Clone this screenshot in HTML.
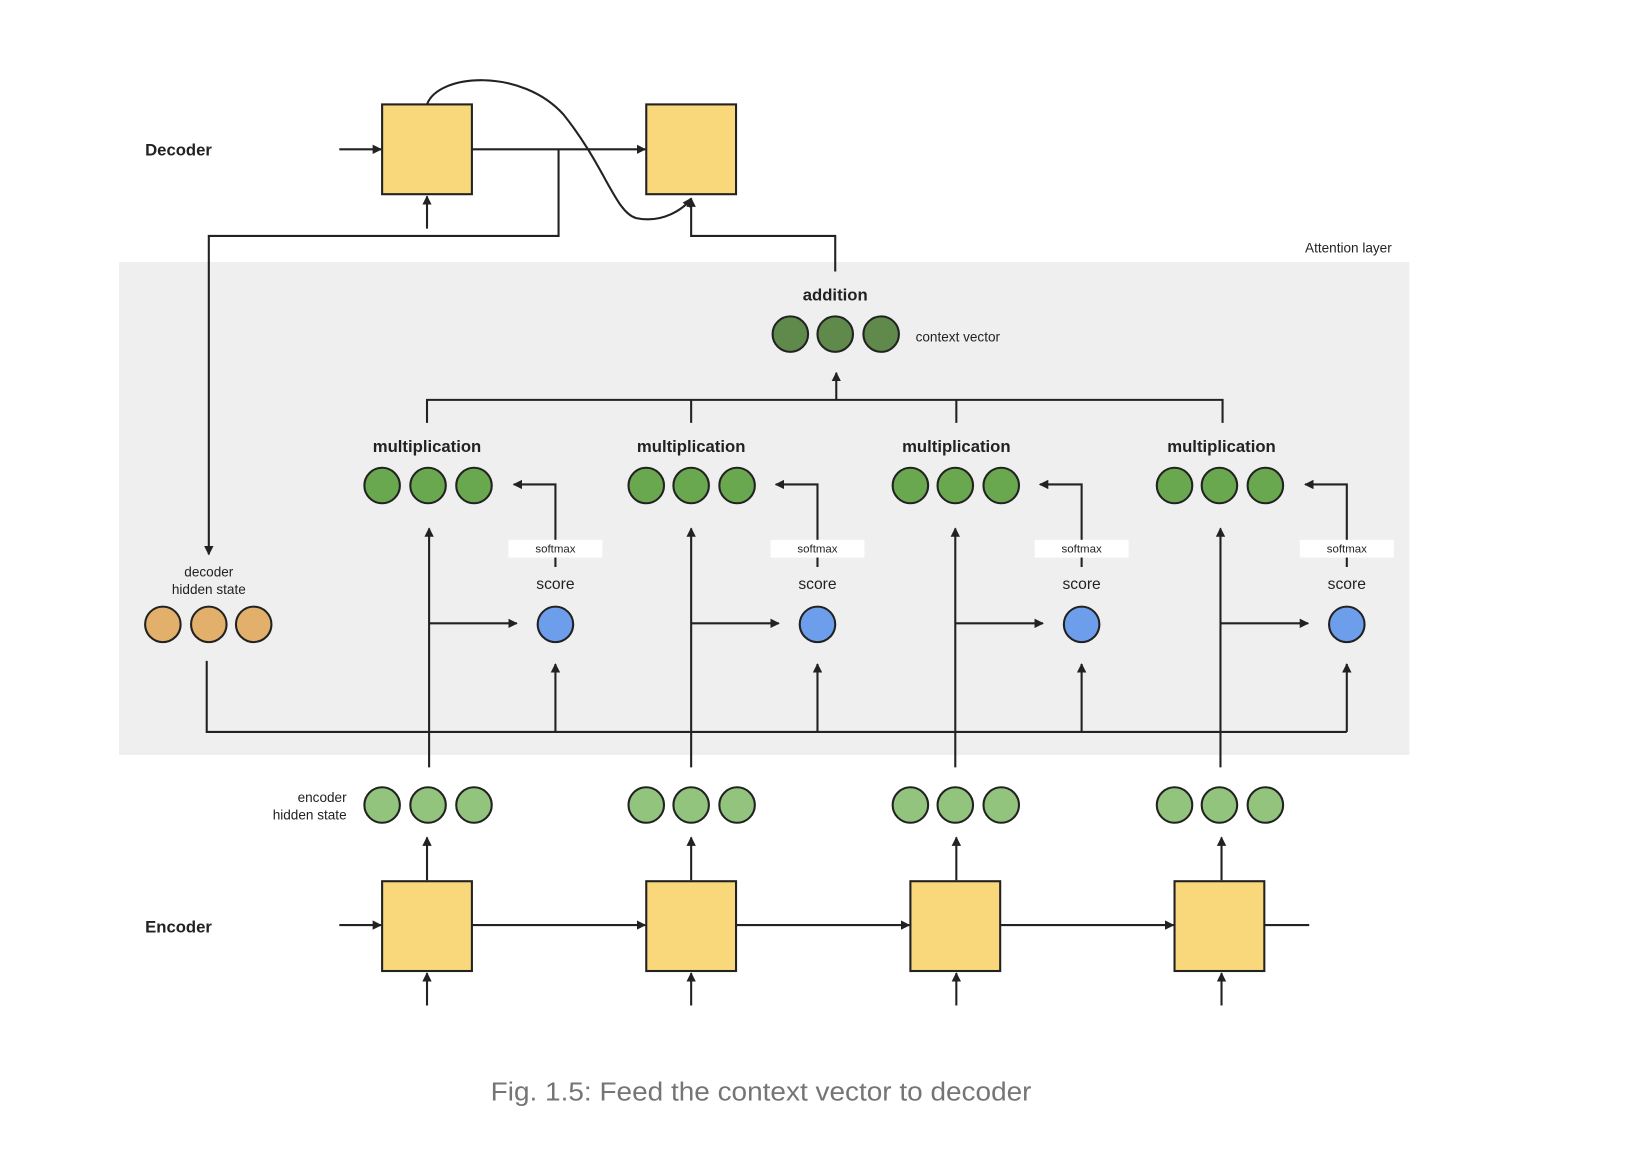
<!DOCTYPE html>
<html><head><meta charset="utf-8"><style>html,body{margin:0;padding:0;background:#fff}svg{display:block}</style></head>
<body>
<svg width="1636" height="1160" viewBox="0 0 1567 1111" preserveAspectRatio="none" xmlns="http://www.w3.org/2000/svg" font-family="Liberation Sans, Arial, sans-serif">
<defs>
<marker id="a" viewBox="0 0 10 10" refX="9" refY="5" markerWidth="9" markerHeight="9" markerUnits="userSpaceOnUse" orient="auto"><path d="M0,0L10,5L0,10z" fill="#222"/></marker>
</defs>
<rect width="1567" height="1111" fill="#fff"/>
<rect x="114" y="251" width="1236" height="472" fill="#efefef"/>
<g stroke="#222" stroke-width="2" fill="none">
<line x1="325" y1="143" x2="365" y2="143" marker-end="url(#a)"/>
<line x1="452" y1="143" x2="618" y2="143" marker-end="url(#a)"/>
<polyline points="535,143 535,226 200,226 200,531" marker-end="url(#a)"/>
<line x1="409" y1="219" x2="409" y2="188" marker-end="url(#a)"/>
<path d="M409,100 C420,70 500,65 540,110 C580,160 590,205 610,209 C635,214 655,200 662,190" marker-end="url(#a)"/>
<polyline points="800,260 800,226 662,226 662,190" marker-end="url(#a)"/>
<line x1="801" y1="383" x2="801" y2="357" marker-end="url(#a)"/>
<polyline points="409,405 409,383 1171,383 1171,405"/>
<line x1="662" y1="383" x2="662" y2="405"/>
<line x1="916" y1="383" x2="916" y2="405"/>
<polyline points="198,633 198,701 1290,701"/>
<g id="col">
<line x1="411" y1="735" x2="411" y2="506" marker-end="url(#a)"/>
<line x1="411" y1="597" x2="495" y2="597" marker-end="url(#a)"/>
<line x1="532" y1="701" x2="532" y2="636" marker-end="url(#a)"/>
<polyline points="532,543 532,464 492,464" marker-end="url(#a)"/>
</g>
<use href="#col" x="251"/>
<use href="#col" x="504"/>
<use href="#col" x="758"/>
<line x1="409" y1="843" x2="409" y2="802" marker-end="url(#a)"/>
<line x1="409" y1="963" x2="409" y2="932" marker-end="url(#a)"/>
<line x1="662" y1="843" x2="662" y2="802" marker-end="url(#a)"/>
<line x1="662" y1="963" x2="662" y2="932" marker-end="url(#a)"/>
<line x1="916" y1="843" x2="916" y2="802" marker-end="url(#a)"/>
<line x1="916" y1="963" x2="916" y2="932" marker-end="url(#a)"/>
<line x1="1170" y1="843" x2="1170" y2="802" marker-end="url(#a)"/>
<line x1="1170" y1="963" x2="1170" y2="932" marker-end="url(#a)"/>
<line x1="325" y1="886" x2="365" y2="886" marker-end="url(#a)"/>
<line x1="452" y1="886" x2="618" y2="886" marker-end="url(#a)"/>
<line x1="705" y1="886" x2="871" y2="886" marker-end="url(#a)"/>
<line x1="958" y1="886" x2="1124" y2="886" marker-end="url(#a)"/>
<line x1="1211" y1="886" x2="1254" y2="886"/>
</g>
<g fill="#f9d77b" stroke="#222" stroke-width="2">
<rect x="366" y="100" width="86" height="86"/>
<rect x="619" y="100" width="86" height="86"/>
<rect x="366" y="844" width="86" height="86"/>
<rect x="619" y="844" width="86" height="86"/>
<rect x="872" y="844" width="86" height="86"/>
<rect x="1125" y="844" width="86" height="86"/>
</g>
<g stroke="#222" stroke-width="2">
<g fill="#5f8a4c"><circle cx="757" cy="320" r="17"/><circle cx="800" cy="320" r="17"/><circle cx="844" cy="320" r="17"/></g>
<g fill="#6aa84f">
<circle cx="366" cy="465" r="17"/><circle cx="410" cy="465" r="17"/><circle cx="454" cy="465" r="17"/>
<circle cx="619" cy="465" r="17"/><circle cx="662" cy="465" r="17"/><circle cx="706" cy="465" r="17"/>
<circle cx="872" cy="465" r="17"/><circle cx="915" cy="465" r="17"/><circle cx="959" cy="465" r="17"/>
<circle cx="1125" cy="465" r="17"/><circle cx="1168" cy="465" r="17"/><circle cx="1212" cy="465" r="17"/>
</g>
<g fill="#93c47d">
<circle cx="366" cy="771" r="17"/><circle cx="410" cy="771" r="17"/><circle cx="454" cy="771" r="17"/>
<circle cx="619" cy="771" r="17"/><circle cx="662" cy="771" r="17"/><circle cx="706" cy="771" r="17"/>
<circle cx="872" cy="771" r="17"/><circle cx="915" cy="771" r="17"/><circle cx="959" cy="771" r="17"/>
<circle cx="1125" cy="771" r="17"/><circle cx="1168" cy="771" r="17"/><circle cx="1212" cy="771" r="17"/>
</g>
<g fill="#6d9eeb"><circle cx="532" cy="598" r="17"/><circle cx="783" cy="598" r="17"/><circle cx="1036" cy="598" r="17"/><circle cx="1290" cy="598" r="17"/></g>
<g fill="#e2b06a"><circle cx="156" cy="598" r="17"/><circle cx="200" cy="598" r="17"/><circle cx="243" cy="598" r="17"/></g>
</g>
<g fill="#fff"><rect x="487" y="517" width="90" height="17"/><rect x="738" y="517" width="90" height="17"/><rect x="991" y="517" width="90" height="17"/><rect x="1245" y="517" width="90" height="17"/></g>
<g fill="#222" font-size="11" text-anchor="middle"><text x="532" y="529">softmax</text><text x="783" y="529">softmax</text><text x="1036" y="529">softmax</text><text x="1290" y="529">softmax</text></g>
<g fill="#222" font-size="15" text-anchor="middle"><text x="532" y="564">score</text><text x="783" y="564">score</text><text x="1036" y="564">score</text><text x="1290" y="564">score</text></g>
<g fill="#222" font-size="16" font-weight="bold" text-anchor="middle">
<text x="409" y="433">multiplication</text><text x="662" y="433">multiplication</text><text x="916" y="433">multiplication</text><text x="1170" y="433">multiplication</text>
<text x="800" y="288">addition</text>
</g>
<g fill="#222" font-size="16" font-weight="bold"><text x="139" y="149">Decoder</text><text x="139" y="893">Encoder</text></g>
<g fill="#222" font-size="13">
<text x="877" y="327">context vector</text>
<text x="1250" y="242">Attention layer</text>
<text x="200" y="552" text-anchor="middle">decoder</text>
<text x="200" y="569" text-anchor="middle">hidden state</text>
<text x="332" y="768" text-anchor="end">encoder</text>
<text x="332" y="785" text-anchor="end">hidden state</text>
</g>
<text x="470" y="1054" font-size="25" fill="#757575" textLength="518" lengthAdjust="spacingAndGlyphs">Fig. 1.5: Feed the context vector to decoder</text>
</svg>
</body></html>
